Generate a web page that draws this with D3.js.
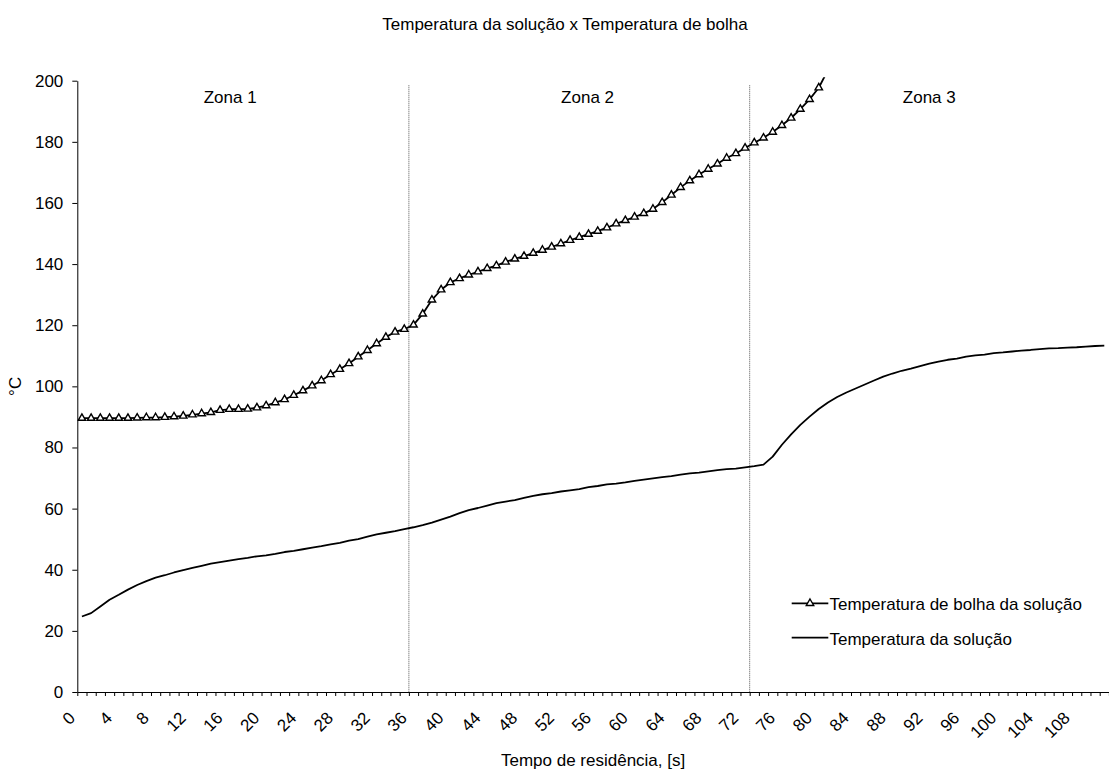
<!DOCTYPE html>
<html>
<head>
<meta charset="utf-8">
<script src="https://cdn.jsdelivr.net/npm/d3@7"></script>
<style>
  html, body { margin: 0; padding: 0; background: #fff; }
  svg text { font-family: "Liberation Sans", Arial, sans-serif; fill: #000; }
</style>
</head>
<body>
<div id="chart"></div>
<script>
// series names (legend order)
const seriesNames = ['Temperatura de bolha da solução', 'Temperatura da solução'];

// bubble temperature of the solution, one value per 1 s step
const bolha = [
  89.6, 89.6, 89.6, 89.6, 89.6, 89.6, 89.7, 89.8, 89.8, 89.9,
  90.1, 90.3, 90.7, 91.1, 91.5, 92.2, 92.5, 92.5, 92.6, 93.0,
  93.7, 94.7, 95.7, 97.1, 98.6, 100.2, 101.9, 103.9, 105.6, 107.5,
  109.7, 111.8, 114.0, 116.1, 117.8, 118.7, 120.1, 123.7, 128.3, 131.6,
  134.0, 135.3, 136.5, 137.5, 138.6, 139.5, 140.7, 141.7, 142.6, 143.6,
  144.6, 145.6, 146.7, 147.8, 148.8, 149.8, 150.8, 151.9, 153.2, 154.3,
  155.4, 156.6, 158.0, 160.2, 162.6, 165.1, 167.3, 169.3, 171.1, 172.8,
  174.7, 176.2, 178.0, 179.7, 181.3, 183.2, 185.4, 187.8, 190.7, 193.9,
  197.7, 203.5
];

// solution temperature
const solucao = [
  24.7, 25.8, 28.0, 30.2, 31.8, 33.5, 35.0, 36.3, 37.4, 38.2,
  39.1, 39.9, 40.6, 41.3, 42.0, 42.5, 43.0, 43.5, 43.9, 44.4,
  44.7, 45.2, 45.8, 46.2, 46.7, 47.2, 47.7, 48.3, 48.8, 49.5,
  50.0, 50.8, 51.6, 52.1, 52.6, 53.3, 53.9, 54.6, 55.4, 56.4,
  57.4, 58.5, 59.5, 60.2, 61.0, 61.8, 62.3, 62.8, 63.5, 64.2,
  64.7, 65.1, 65.6, 66.0, 66.4, 67.0, 67.4, 67.9, 68.2, 68.6,
  69.1, 69.5, 69.9, 70.3, 70.6, 71.1, 71.5, 71.8, 72.2, 72.6,
  72.9, 73.1, 73.5, 73.9, 74.4, 77.0, 80.9, 84.3, 87.4, 90.1,
  92.6, 94.7, 96.5, 98.0, 99.3, 100.6, 101.9, 103.2, 104.2, 105.1,
  105.8, 106.6, 107.4, 108.1, 108.7, 109.1, 109.7, 110.1, 110.4, 110.9,
  111.1, 111.4, 111.7, 111.9, 112.2, 112.4, 112.5, 112.7, 112.8, 113.0,
  113.2, 113.3
];

// axis ticks
const yTicks = [0, 20, 40, 60, 80, 100, 120, 140, 160, 180, 200];
const xTickLabels = [0, 4, 8, 12, 16, 20, 24, 28, 32, 36, 40, 44, 48, 52, 56, 60, 64, 68, 72, 76, 80, 84, 88, 92, 96, 100, 104, 108];
const nCategories = 112;

// zone boundaries (s) and zone labels
const zoneBounds = [36, 73];
const zoneNames = ['Zona 1', 'Zona 2', 'Zona 3'];
const zoneLabelAt = [16.6, 55.4, 92.5];

const title = 'Temperatura da solução x Temperatura de bolha';
const xTitle = 'Tempo de residência, [s]';
const yTitle = '°C';

// dimensions
const width = 1109;
const height = 771;
const plot = { left: 77.3, right: 1108.9, top: 80.7, bottom: 692 };

const svg = d3.select('#chart').append('svg')
  .attr('width', width)
  .attr('height', height);

const x = d3.scaleLinear().domain([0, nCategories]).range([plot.left, plot.right]);
const y = d3.scaleLinear().domain([0, 200]).range([plot.bottom, plot.top]);

// clip for the curve that leaves the top of the plot
svg.append('clipPath').attr('id', 'plotclip')
  .append('rect')
  .attr('x', plot.left)
  .attr('y', plot.top - 3.5)
  .attr('width', plot.right - plot.left)
  .attr('height', plot.bottom - plot.top + 3.5);

// title
svg.append('text')
  .attr('x', 565).attr('y', 30)
  .attr('text-anchor', 'middle')
  .style('font-size', '17px')
  .text(title);

// zone dividers
svg.append('g').selectAll('line')
  .data(zoneBounds)
  .join('line')
  .attr('x1', (d) => x(d)).attr('x2', (d) => x(d))
  .attr('y1', y(198.5)).attr('y2', plot.bottom)
  .attr('stroke', '#555')
  .attr('stroke-width', 1)
  .attr('stroke-dasharray', '1,1');

svg.append('g').selectAll('text')
  .data(zoneNames)
  .join('text')
  .attr('x', (d, i) => x(zoneLabelAt[i]))
  .attr('y', 103)
  .attr('text-anchor', 'middle')
  .style('font-size', '17px')
  .text((d) => d);

// series
const line = d3.line()
  .x((d, i) => x(i + 0.5))
  .y((d) => y(d));

const series = svg.append('g').attr('clip-path', 'url(#plotclip)');

series.append('path')
  .datum(solucao)
  .attr('d', line)
  .attr('fill', 'none')
  .attr('stroke', '#000')
  .attr('stroke-width', 1.8)
  .attr('stroke-linejoin', 'round');

series.append('path')
  .datum(bolha)
  .attr('d', line)
  .attr('fill', 'none')
  .attr('stroke', '#000')
  .attr('stroke-width', 1.8)
  .attr('stroke-linejoin', 'round');

const triangle = d3.symbol(d3.symbolTriangle, 24);

series.append('g').selectAll('path')
  .data(bolha.map((v, i) => ({ v, i })).filter((d) => d.v <= 200))
  .join('path')
  .attr('d', triangle)
  .attr('transform', (d) => `translate(${x(d.i + 0.5)},${y(d.v)})`)
  .attr('fill', '#fff')
  .attr('stroke', '#000')
  .attr('stroke-width', 1.4);

// axes
const yAxis = d3.axisLeft(y).tickValues(yTicks).tickSize(5).tickSizeOuter(0).tickPadding(9);
const gy = svg.append('g').attr('transform', `translate(${plot.left},0)`).call(yAxis);
gy.selectAll('text').style('font-size', '17px').style('font-family', '"Liberation Sans", Arial, sans-serif');

const xAxis = d3.axisBottom(x)
  .tickValues(d3.range(0, nCategories + 1))
  .tickSize(4)
  .tickSizeOuter(0)
  .tickFormat((d) => (xTickLabels.includes(d) ? d : ''));
const gx = svg.append('g').attr('transform', `translate(0,${plot.bottom})`).call(xAxis);
gx.selectAll('text')
  .attr('y', null).attr('dy', null)
  .attr('text-anchor', 'end')
  .attr('transform', 'translate(-1.5,27) rotate(-45)')
  .style('font-size', '17px')
  .style('font-family', '"Liberation Sans", Arial, sans-serif');

svg.selectAll('.domain, .tick line').attr('stroke', '#000');

// axis titles
svg.append('text')
  .attr('x', (plot.left + plot.right) / 2).attr('y', 766)
  .attr('text-anchor', 'middle')
  .style('font-size', '17px')
  .text(xTitle);

svg.append('text')
  .attr('transform', `translate(21,${(plot.top + plot.bottom) / 2}) rotate(-90)`)
  .attr('text-anchor', 'middle')
  .style('font-size', '17px')
  .text(yTitle);

// legend
const legend = svg.append('g');
const legendRows = [603.3, 637.7];
seriesNames.forEach((name, i) => {
  const row = legend.append('g').attr('transform', `translate(0,${legendRows[i]})`);
  row.append('line')
    .attr('x1', 791.7).attr('x2', 828.3)
    .attr('stroke', '#000').attr('stroke-width', 1.8);
  if (i === 0) {
    row.append('path')
      .attr('d', triangle)
      .attr('transform', 'translate(810,0)')
      .attr('fill', '#fff').attr('stroke', '#000').attr('stroke-width', 1.4);
  }
  row.append('text')
    .attr('x', 829.5).attr('y', 7)
    .style('font-size', '17px')
    .text(name);
});
</script>
</body>
</html>
